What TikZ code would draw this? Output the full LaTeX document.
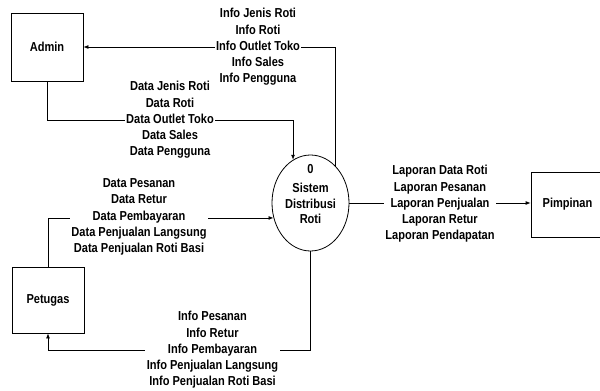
\documentclass[tikz,border=0pt]{standalone}
\usepackage{fontspec}
\setmainfont{Liberation Sans}[FakeStretch=0.85]
\usetikzlibrary{arrows.meta,shapes.geometric}

\tikzset{
  entity/.style={draw, line width=0.8pt, minimum width=72pt, inner sep=0pt,
    font=\fontsize{13}{16}\selectfont\bfseries},
  process/.style={draw, ellipse, line width=0.8pt, minimum width=77pt,
    minimum height=96pt, inner sep=0pt},
  flow/.style={draw, line width=0.8pt, -{Latex[length=5pt,width=4pt]}},
  flowlabel/.style={fill=white, align=center, inner sep=1.5pt,
    font=\fontsize{13}{16.2}\selectfont\bfseries},
}

\begin{document}
\begin{tikzpicture}[x=1pt,y=-1pt]
  \useasboundingbox (0,0) rectangle (600,391);

  % external entities and the single process
  \node[entity, minimum height=68pt] (admin) at (47,47) {Admin};
  \node[entity, minimum height=66pt] (pet) at (48,300) {Petugas};
  \node[entity, minimum width=73pt, minimum height=65pt] (pim) at (567.5,204.5) {Pimpinan};
  \node[process] (sys) at (310.5,203) {};
  \node[align=center, font=\fontsize{13}{15.5}\selectfont\bfseries] (systxt) at (310.5,194)
    {0\\[4pt]Sistem\\Distribusi\\Roti};

  % data flows
  \draw[flow] (sys.56.5) |- (admin.east);
  \draw[flow] (admin.south) |- ([yshift=39pt]sys.112) -- (sys.112);
  \draw[flow] (pet.north) |- (sys.202);
  \draw[flow] (sys.south) |- ([yshift=-17pt]pet.south) -- (pet.south);
  \draw[flow] (sys.east) -- (sys.east -| pim.west);

  % flow labels
  \node[flowlabel] (linfo) at (258,47)
    {Info Jenis Roti\\Info Roti\\Info Outlet Toko\\Info Sales\\Info Pengguna};
  \node[flowlabel] (ldata) at (170,120)
    {Data Jenis Roti\\Data Roti\\Data Outlet Toko\\Data Sales\\Data Pengguna};
  \node[flowlabel] (lpetin) at (139,217)
    {Data Pesanan\\Data Retur\\Data Pembayaran\\Data Penjualan Langsung\\Data Penjualan Roti Basi};
  \node[flowlabel] (lpetout) at (212.5,350)
    {Info Pesanan\\Info Retur\\Info Pembayaran\\Info Penjualan Langsung\\Info Penjualan Roti Basi};
  \node[flowlabel] (lpim) at (440,204)
    {Laporan Data Roti\\Laporan Pesanan\\Laporan Penjualan\\Laporan Retur\\Laporan Pendapatan};
\end{tikzpicture}
\end{document}
